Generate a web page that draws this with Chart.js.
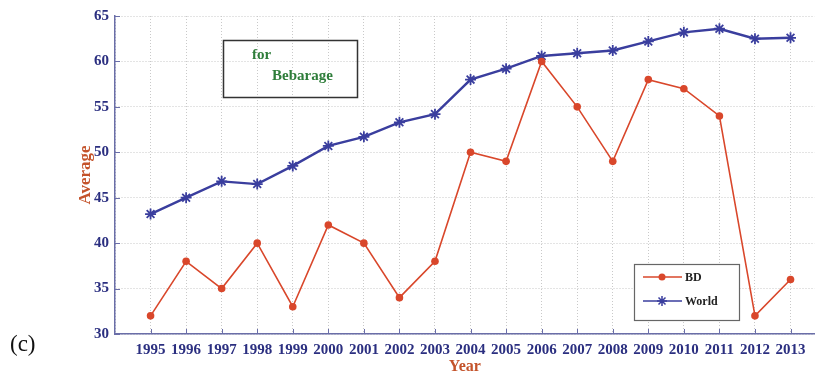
<!DOCTYPE html>
<html>
<head>
<meta charset="utf-8">
<script src="https://cdn.jsdelivr.net/npm/chart.js@4/dist/chart.umd.min.js"></script>
<style>
  html, body { margin: 0; padding: 0; background: #fff; }
  #wrap { position: relative; width: 822px; height: 376px; }
</style>
</head>
<body>
<div id="wrap"><canvas id="c" width="822" height="376"></canvas></div>
<script>
const years = [1995,1996,1997,1998,1999,2000,2001,2002,2003,2004,2005,2006,2007,2008,2009,2010,2011,2012,2013];
const bdValues = [32,38,35,40,33,42,40,34,38,50,49,60,55,49,58,57,54,32,36];
const worldValues = [43.2,45,46.8,46.5,48.5,50.7,51.7,53.3,54.2,58,59.2,60.6,60.9,61.2,62.2,63.2,63.6,62.5,62.6];
const yTicks = [30,35,40,45,50,55,60,65];
const seriesNames = ['BD','World'];
const annotationLines = ['for','Bebarage'];
const panelLabel = '(c)';
const xTitle = 'Year';
const yTitle = 'Average';

const RED = '#d9472b';
const BLUE = '#3a3e9e';
const NAVY = '#2b2f80';
const TITLE_COLOR = '#c4532b';
const FONT = '"Liberation Serif", "Times New Roman", serif';

const extras = {
  id: 'extras',
  afterDraw(chart) {
    const ctx = chart.ctx;
    const xs = chart.scales.x, ys = chart.scales.y;
    ctx.save();
    // inward ticks on axes
    ctx.strokeStyle = '#6a6ea8';
    ctx.lineWidth = 1;
    years.forEach(v => {
      const px = Math.round(xs.getPixelForValue(v)) + 0.5;
      ctx.beginPath();
      ctx.moveTo(px, ys.bottom);
      ctx.lineTo(px, ys.bottom - 5);
      ctx.stroke();
    });
    yTicks.forEach(v => {
      const py = Math.round(ys.getPixelForValue(v)) + 0.5;
      ctx.beginPath();
      ctx.moveTo(xs.left, py);
      ctx.lineTo(xs.left + 5, py);
      ctx.stroke();
    });
    // panel label
    ctx.fillStyle = '#111';
    ctx.font = '23px ' + FONT;
    ctx.textBaseline = 'middle';
    ctx.textAlign = 'left';
    ctx.fillText(panelLabel, 10, 345);
    // annotation box
    ctx.strokeStyle = '#333';
    ctx.lineWidth = 1.5;
    ctx.strokeRect(223.5, 40.5, 134, 57);
    ctx.fillStyle = '#2e7d3a';
    ctx.font = 'bold 15px ' + FONT;
    ctx.fillText(annotationLines[0], 252, 55);
    ctx.fillText(annotationLines[1], 272, 76);
    // legend box
    ctx.fillStyle = '#fff';
    ctx.fillRect(634, 264, 105, 56);
    ctx.strokeStyle = '#666';
    ctx.lineWidth = 1.2;
    ctx.strokeRect(634.5, 264.5, 105, 56);
    const rows = [
      {y: 277, color: RED, label: seriesNames[0], star: false},
      {y: 301, color: BLUE, label: seriesNames[1], star: true}
    ];
    rows.forEach(r => {
      ctx.strokeStyle = r.color;
      ctx.lineWidth = 1.5;
      ctx.beginPath();
      ctx.moveTo(643, r.y);
      ctx.lineTo(682, r.y);
      ctx.stroke();
      if (r.star) {
        const cx = 662, cy = r.y, s = 5;
        ctx.beginPath();
        ctx.moveTo(cx - s, cy); ctx.lineTo(cx + s, cy);
        ctx.moveTo(cx, cy - s); ctx.lineTo(cx, cy + s);
        ctx.moveTo(cx - s*0.7, cy - s*0.7); ctx.lineTo(cx + s*0.7, cy + s*0.7);
        ctx.moveTo(cx - s*0.7, cy + s*0.7); ctx.lineTo(cx + s*0.7, cy - s*0.7);
        ctx.stroke();
      } else {
        ctx.fillStyle = r.color;
        ctx.beginPath();
        ctx.arc(662, r.y, 3.5, 0, Math.PI * 2);
        ctx.fill();
      }
      ctx.fillStyle = '#222';
      ctx.font = 'bold 12px ' + FONT;
      ctx.fillText(r.label, 685, r.y + 1);
    });
    ctx.restore();
  }
};

new Chart(document.getElementById('c'), {
  type: 'line',
  data: {
    datasets: [
      {
        label: seriesNames[0],
        data: years.map((y, i) => ({x: y, y: bdValues[i]})),
        borderColor: RED,
        backgroundColor: RED,
        borderWidth: 1.6,
        pointStyle: 'circle',
        pointRadius: 3.8,
        pointBorderWidth: 0,
        tension: 0
      },
      {
        label: seriesNames[1],
        data: years.map((y, i) => ({x: y, y: worldValues[i]})),
        borderColor: BLUE,
        backgroundColor: BLUE,
        borderWidth: 2.4,
        pointStyle: 'star',
        pointRadius: 5.5,
        pointBorderWidth: 1.8,
        tension: 0
      }
    ]
  },
  options: {
    responsive: false,
    animation: false,
    devicePixelRatio: 1,
    layout: { padding: { left: 75, right: 1, top: 16, bottom: 0 } },
    plugins: { legend: { display: false }, tooltip: { enabled: false } },
    scales: {
      x: {
        type: 'linear',
        min: 1994,
        max: 2013.68,
        afterFit(s) { s.height = 42; },
        ticks: {
          stepSize: 1,
          includeBounds: false,
          autoSkip: false,
          maxRotation: 0,
          padding: 7,
          color: NAVY,
          font: { family: FONT, size: 15, weight: 'bold' },
          callback: v => (v === 1994 ? '' : String(v))
        },
        grid: {
          color: '#c9c9c9',
          lineWidth: 1,
          drawTicks: false,
          tickLength: 0
        },
        border: { display: true, color: '#6a6ea8', width: 1.5, dash: [1, 2] },
        title: {
          display: true,
          text: xTitle,
          color: TITLE_COLOR,
          font: { family: FONT, size: 16, weight: 'bold' },
          padding: { top: 0, bottom: 0 }
        }
      },
      y: {
        min: 30,
        max: 65,
        afterFit(s) { s.width = 40; },
        ticks: {
          stepSize: 5,
          padding: 6,
          color: NAVY,
          font: { family: FONT, size: 15, weight: 'bold' }
        },
        grid: {
          color: '#c9c9c9',
          lineWidth: 1,
          drawTicks: false,
          tickLength: 0
        },
        border: { display: true, color: '#6a6ea8', width: 1.5, dash: [1, 2] },
        title: {
          display: true,
          text: yTitle,
          color: TITLE_COLOR,
          font: { family: FONT, size: 17, weight: 'bold' },
          padding: { top: 0, bottom: 0 }
        }
      }
    }
  },
  plugins: [extras]
});
</script>
</body>
</html>
